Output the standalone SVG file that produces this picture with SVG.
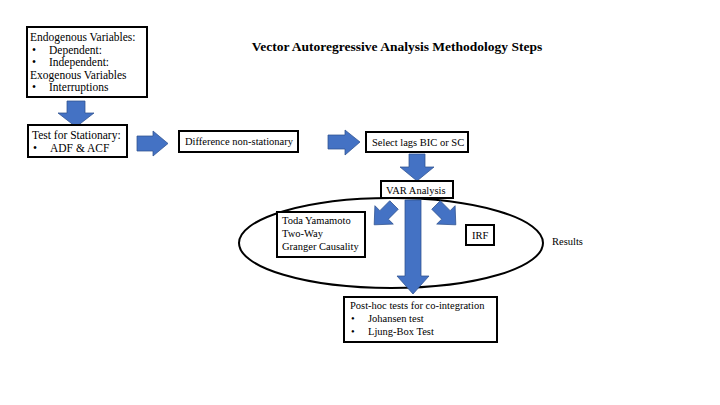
<svg xmlns="http://www.w3.org/2000/svg" width="720" height="405" viewBox="0 0 720 405">
<style>
.box{fill:#fff;stroke:#000;stroke-width:2}
.t{font-family:"Liberation Serif","Times New Roman",serif;font-size:10.5px;fill:#000}
.tl{font-family:"Liberation Serif","Times New Roman",serif;font-size:11.5px;fill:#000}
.title{font-family:"Liberation Serif","Times New Roman",serif;font-size:13.5px;font-weight:bold;fill:#000}
.arr{fill:#4472C4;stroke:#2F528F;stroke-width:0.75}
</style>
<defs>
<path id="diag" d="M0,-6 H14 V-13 L28,0 L14,13 V6 H0 Z"/>
</defs>
<rect width="720" height="405" fill="#fff"/>
<text class="title" x="397" y="51" text-anchor="middle">Vector Autoregressive Analysis Methodology Steps</text>

<g id="results-ellipse">
<ellipse cx="391" cy="243" rx="152" ry="45" fill="none" stroke="#000" stroke-width="2"/>
<text class="t" x="552" y="245">Results</text>
</g>

<g id="connectors">
<path class="arr" d="M67,101 H85 V113 H94 L76,127 L58,113 H67 Z"/>
<path class="arr" d="M137,136 H153 V131 L168,143.5 L153,156 V151 H137 Z"/>
<path class="arr" d="M328,135 H345 V130 L360,142 L345,155 V149 H328 Z"/>
<path class="arr" d="M409,154 H425 V167 H434 L417,181 L400,167 H409 Z"/>
<path class="arr" d="M405,200 H421 V276 H429 L413,294 L397,276 H405 Z"/>
<use href="#diag" class="arr" transform="translate(394,205) rotate(135)"/>
<use href="#diag" class="arr" transform="translate(436,205) rotate(45)"/>
</g>

<g id="variables">
<rect class="box" x="27" y="27" width="120" height="70"/>
<text class="tl" x="30" y="41">Endogenous Variables:</text>
<text class="tl" x="32" y="53.5">•</text><text class="tl" x="49" y="53.5">Dependent:</text>
<text class="tl" x="32" y="66">•</text><text class="tl" x="49" y="66">Independent:</text>
<text class="tl" x="30" y="78.5">Exogenous Variables</text>
<text class="tl" x="32" y="91">•</text><text class="tl" x="49" y="91">Interruptions</text>
</g>

<g id="stationary">
<rect class="box" x="28" y="125" width="99" height="32"/>
<text class="tl" x="32" y="139">Test for Stationary:</text>
<text class="tl" x="33" y="152">•</text><text class="tl" x="50" y="152">ADF &amp; ACF</text>
</g>

<g id="difference">
<rect class="box" x="179" y="131" width="119" height="21"/>
<text class="t" x="185" y="145">Difference non-stationary</text>
</g>

<g id="lags">
<rect class="box" x="366" y="132" width="102" height="20"/>
<text class="t" x="372" y="146">Select lags BIC or SC</text>
</g>

<g id="var">
<rect class="box" x="381" y="181" width="72" height="17"/>
<text class="t" x="386" y="193.5">VAR Analysis</text>
</g>

<g id="toda">
<rect class="box" x="277" y="212" width="88" height="45"/>
<text class="t" x="282" y="224">Toda Yamamoto</text>
<text class="t" x="282" y="237">Two-Way</text>
<text class="t" x="282" y="250">Granger Causality</text>
</g>

<g id="irf">
<rect class="box" x="466" y="225" width="28" height="20"/>
<text class="t" x="472" y="239">IRF</text>
</g>

<g id="posthoc">
<rect class="box" x="344" y="297" width="153" height="45"/>
<text class="t" x="350" y="309">Post-hoc tests for co-integration</text>
<text class="t" x="351" y="322">•</text><text class="t" x="368" y="322">Johansen test</text>
<text class="t" x="351" y="335">•</text><text class="t" x="368" y="335">Ljung-Box Test</text>
</g>
</svg>
